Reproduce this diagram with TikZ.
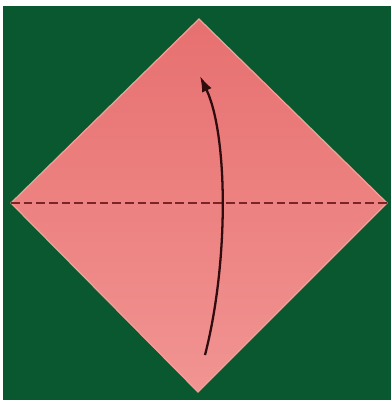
\documentclass[tikz,border=0pt]{standalone}
\usepackage{xcolor}
\usepackage{tikz}
\usetikzlibrary{arrows.meta}

\definecolor{boardgreen}{RGB}{10,88,47}
\definecolor{paperpink}{RGB}{231,112,112}
\definecolor{paperlight}{RGB}{241,148,146}
\definecolor{paperedge}{RGB}{238,162,152}
\definecolor{creasered}{RGB}{122,36,38}
\definecolor{arrowdark}{RGB}{48,12,14}

\begin{document}
\begin{tikzpicture}[
      x=0.02cm, y=-0.02cm,
      paper/.style={draw=paperedge, line width=0.7pt, top color=paperpink, bottom color=paperlight},
      crease/.style={draw=creasered, line width=1.7pt, dash pattern=on 5pt off 2.2pt},
      foldarrow/.style={draw=arrowdark, line width=1.3pt, -{Latex[length=9pt, width=6pt]}}
    ]
      \useasboundingbox (0,0) rectangle (391,405);
      \fill[white] (0,0) rectangle (391,405);
      \fill[boardgreen] (3,6) rectangle (391,400);

      % corners of the square sheet
      \coordinate (top) at (199,19);
      \coordinate (left) at (11,203);
      \coordinate (right) at (387,203);
      \coordinate (bottom) at (198,392);

      \path[paper] (top) -- (right) -- (bottom) -- (left) -- cycle;

      % valley fold along the diagonal
      \draw[crease] (left) -- (right);

      % fold the bottom corner up
      \coordinate (start) at (205,355);
      \coordinate (tip) at (200,76);
      \draw[foldarrow] (start) .. controls (229,262) and (228,135) .. (tip);
    \end{tikzpicture}
\end{document}
